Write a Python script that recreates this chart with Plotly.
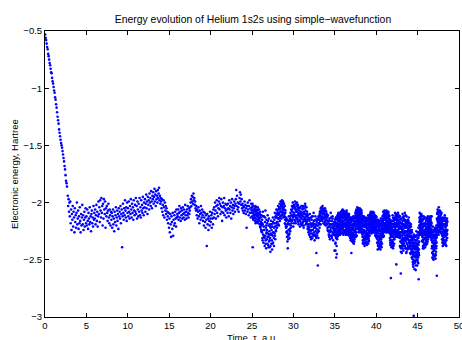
import numpy as np
import plotly.graph_objects as go

# ---- data (energies in hundredths of Hartree, sign negative) ----
# initial descent
descent_t = (0.02, 2.66)
descent_e = [53, 56, 58, 61, 64, 66, 70, 72, 75, 78, 80, 83, 86, 87, 91, 94, 96, 99, 102, 104,
             108, 110, 114, 117, 121, 125, 128, 131, 136, 139, 142, 145, 148, 150, 152, 155, 158,
             161, 164, 168, 171, 176, 181, 183, 186]

early_t = (2.75, 25.0)
early_e = [194, 203, 197, 208, 200,
           212, 199, 218, 206, 224, 210, 215, 203, 221, 208, 213, 226, 205, 217, 211, 222, 209, 200, 219, 214,
           207, 223, 212, 218, 204, 216, 226, 210, 220, 213, 202, 219, 211, 224, 215, 208, 221, 213, 205, 218,
           212, 220, 206, 216, 223, 209, 214, 219, 204, 217, 212, 225, 210, 207, 218, 213, 221, 203, 215, 209,
           214, 206, 219, 211, 202, 216, 208, 221, 212, 199, 210, 204, 217, 198, 207, 213, 196, 209, 203, 220,
           201, 214, 197, 206, 210, 199, 222, 205, 212, 203, 209, 216, 207, 201, 213, 218, 206, 211, 220, 208,
           215, 209, 222, 212, 206, 219, 214, 225, 208, 217, 211, 204, 220, 213, 207, 216, 210, 223, 205, 212,
           208, 214, 203, 218, 210, 206, 239, 212, 201, 209, 215, 205, 211, 198, 207, 213, 204, 216, 200, 209,
           205, 212, 199, 208, 214, 203, 210, 197, 206, 213, 201, 209, 204, 215, 198, 207, 211, 202, 208, 196,
           210, 203, 214, 199, 206, 212, 201, 208, 196, 211, 204, 213, 198, 207, 202, 209, 195, 205, 211, 200,
           204, 197, 208, 201, 193, 205, 199, 210, 195, 202, 198, 206, 192, 200, 196, 203, 190, 199, 205, 194,
           197, 191, 201, 195, 188, 199, 193, 203, 190, 197, 194, 200, 189, 196, 192, 187, 198, 194, 201, 196,
           199, 205, 197, 208, 202, 211, 198, 204, 213, 200, 207, 203, 210, 205, 215, 208, 212, 218, 209, 222,
           214, 226, 210, 219, 230, 212, 217, 223, 209, 229, 215, 220, 211, 218, 208, 214, 221, 206, 213, 210,
           212, 206, 215, 209, 203, 213, 208, 216, 205, 211, 207, 214, 204, 210, 213, 206, 209, 215, 202, 211,
           208, 214, 206, 211, 203, 209, 213, 205, 210, 207, 204, 200, 197, 203, 194, 199, 195, 201, 192, 198,
           196, 202, 199, 205, 207, 203, 211, 206, 214, 208, 204, 212, 218, 207, 210, 215, 203, 209, 213, 206,
           211, 216, 208, 220, 213, 209, 217, 222, 211, 215, 238, 210, 219, 214, 224, 212, 216, 220, 208, 214,
           217, 211, 222, 209, 214, 219, 206, 213, 204, 210, 200, 207, 214, 203, 198, 209, 202, 212, 205, 199,
           196, 206, 201, 210, 203, 197, 208, 216, 204, 200, 209, 203, 196, 211, 205, 201, 207, 213, 202, 206,
           209, 201, 205, 212, 198, 206, 203, 209, 200, 214, 204, 197, 207, 202, 210, 205, 199, 203, 208, 201,
           197, 189, 203, 194, 206, 200, 204, 208, 201, 196, 191, 199, 193, 202, 197, 205, 201, 207, 203, 209,
           204, 199, 207, 202, 210, 205, 222, 203, 208, 200, 206, 211, 203, 198, 209, 205, 213, 201, 207, 204]

mid_t = (25.0, 34.99)
mid_e = [206, 212, 201, 239, 209, 215, 203, 210, 207, 213,
         205, 211, 216, 208, 203, 214, 210, 206, 217, 209,
         212, 207, 215, 204, 211, 218, 209, 214, 206, 213,
         216, 210, 219, 208, 222, 213, 217, 224, 211, 220,
         226, 215, 231, 219, 208, 228, 235, 221, 212, 230,
         224, 238, 217, 229, 207, 233, 222, 240, 215, 226,
         232, 218, 236, 211, 227, 237, 220, 230, 214, 234,
         225, 239, 219, 231, 243, 222, 228, 216, 236, 224,
         233, 241, 221, 229, 213, 235, 226, 218, 231, 222,
         215, 227, 209, 221, 232, 212, 224, 218, 206, 220,
         213, 222, 207, 217, 211, 203, 219, 209, 214, 205,
         210, 201, 216, 206, 212, 199, 208, 203, 214, 200,
         205, 198, 211, 202, 207, 199, 213, 204, 209, 201,
         206, 212, 203, 215, 209, 219, 213, 222, 216, 226,
         221, 230, 215, 227, 240, 218, 232, 224, 212, 228,
         219, 231, 223, 214, 225, 209, 220, 215, 206, 218,
         211, 203, 216, 208, 200, 213, 221, 205, 210, 202,
         209, 215, 204, 199, 212, 206, 218, 201, 208, 214,
         203, 200, 211, 206, 216, 202, 209, 219, 205, 212,
         207, 215, 210, 221, 204, 213, 208, 218, 211, 203,
         214, 209, 220, 206, 212, 217, 203, 210, 222, 208,
         213, 205, 216, 210, 201, 214, 207, 219, 211, 204,
         212, 218, 208, 215, 223, 211, 219, 226, 214, 221,
         228, 216, 224, 210, 230, 219, 225, 213, 232, 221,
         215, 227, 220, 231, 212, 224, 218, 229, 209, 222,
         226, 216, 233, 221, 228, 212, 225, 219, 230, 244,
         223, 217, 229, 214, 226, 255, 220, 231, 212, 225,
         218, 213, 222, 208, 216, 211, 219, 205, 214, 209,
         204, 212, 207, 216, 203, 210, 214, 206, 218, 209,
         213, 207, 219, 211, 205, 216, 210, 220, 212, 208,
         215, 210, 219, 213, 222, 216, 211, 225, 218, 228,
         221, 230, 214, 226, 232, 219, 224, 209, 229, 220,
         225, 216, 231, 222, 212, 227, 219, 233, 223, 217,
         228, 221, 242, 226]

mid2_t = (25.015, 34.975)
mid2_e = [209, 203, 214, 207, 211, 213, 207, 218, 204, 211, 209, 216, 206, 213, 210,
          214, 221, 211, 218, 225, 218, 233, 212, 224, 229, 231, 213, 236, 220, 227,
          224, 230, 216, 239, 228, 233, 221, 238, 227, 219, 228, 236, 217, 226, 238,
          218, 229, 213, 225, 210, 217, 209, 214, 206, 220, 204, 213, 208, 202, 211,
          203, 209, 200, 206, 212, 210, 218, 207, 221, 214, 225, 234, 219, 229, 216,
          227, 216, 212, 222, 211, 207, 215, 204, 212, 218, 203, 211, 216, 206, 213,
          208, 214, 204, 217, 210, 212, 205, 216, 209, 219, 211, 218, 205, 215, 220,
          209, 215, 203, 212, 217, 216, 210, 221, 213, 224, 222, 214, 227, 218, 230,
          224, 212, 220, 228, 216, 219, 229, 222, 215, 231, 220, 227, 215, 224, 218,
          215, 210, 219, 207, 212, 209, 215, 205, 213, 208, 210, 217, 214, 207, 212,
          218, 212, 224, 216, 221, 225, 216, 229, 222, 213, 219, 229, 214, 226, 221,
          224, 219]

late_t = (35.02, 48.58)
late_e = [215, 229, 242, 220, 231, 248, 213, 226, 218, 232,
          211, 224, 216, 229, 209, 221, 227, 214, 225, 210,
          219, 228, 212, 223, 208, 217, 226, 211, 220, 207,
          214, 206, 222, 210, 227, 213, 208, 219, 225, 212,
          209, 221, 215, 228, 211, 218, 224, 207, 216, 226,
          213, 220, 210, 227, 216, 222, 212, 229, 218, 214,
          224, 231, 217, 226, 213, 229, 244, 220, 232, 215,
          227, 219, 233, 222, 212, 228, 236, 218, 225, 214,
          221, 230, 209, 223, 216, 226, 206, 218, 212, 220,
          204, 215, 208, 222, 205, 217, 211, 225, 207, 213,
          219, 209, 224, 214, 206, 221, 216, 226, 211, 218,
          223, 230, 214, 236, 220, 227, 212, 233, 224, 238,
          217, 229, 221, 235, 213, 226, 231, 218, 237, 222,
          228, 215, 232, 220, 211, 226, 234, 219, 224, 213,
          221, 210, 225, 216, 208, 222, 213, 227, 209, 219,
          214, 224, 208, 218, 212, 226, 215, 209, 221, 217,
          211, 223, 216, 228, 213, 220, 226, 218, 231, 224,
          235, 219, 241, 227, 215, 233, 222, 238, 217, 229,
          224, 236, 220, 241, 228, 214, 232, 225, 239, 221,
          218, 230, 212, 224, 208, 219, 226, 210, 222, 207,
          215, 223, 209, 218, 225, 212, 220, 207, 216, 226,
          211, 219, 224, 213, 221, 208, 217, 223, 214, 226,
          220, 231, 215, 237, 224, 266, 228, 239, 218, 233,
          222, 235, 211, 227, 240, 219, 230, 216, 225, 232,
          214, 222, 209, 226, 218, 230, 212, 254, 220, 228,
          211, 224, 216, 229, 209, 221, 227, 215, 223, 230,
          218, 226, 212, 234, 221, 262, 240, 215, 229, 244,
          224, 236, 210, 231, 219, 242, 227, 214, 238, 221,
          233, 209, 225, 240, 217, 230, 222, 244, 212, 236,
          219, 228, 241, 215, 232, 224, 239, 213, 229, 235,
          222, 240, 218, 234, 227, 245, 221, 238, 231, 248,
          226, 242, 236, 252, 230, 256, 240, 299, 235, 247,
          258, 229, 244, 251, 238, 259, 233, 246, 225, 250,
          239, 255, 231, 243, 236, 248, 222, 267, 241, 228,
          217, 209, 224, 214, 228, 212, 220, 226, 211, 219,
          223, 234, 215, 229, 240, 219, 231, 212, 237, 225,
          218, 232, 226, 239, 213, 228, 235, 221, 230, 216,
          227, 236, 214, 222, 212, 219, 228, 215, 224, 230,
          213, 221, 227, 216, 212, 225, 219, 229, 223, 233,
          240, 226, 248, 234, 221, 245, 238, 250, 229, 242,
          236, 247, 223, 239, 231, 249, 226, 243, 220, 235,
          264, 215, 228, 206, 219, 224, 210, 226, 204, 217,
          212, 222, 207, 218, 225, 211, 220, 214, 227, 209,
          221, 232, 216, 228, 238, 213, 226, 234, 219, 230,
          224, 236, 211, 229, 220, 233, 215, 227, 238, 218,
          225, 214, 231]

late2_t = (35.03, 48.59)
late2_e = [223, 217, 235, 226, 214, 230, 221, 245, 219, 227,
           218, 226, 212, 222, 228, 215, 220, 211, 224, 217,
           214, 222, 209, 225, 216, 211, 221, 226, 213, 218,
           208, 219, 213, 224, 207, 216, 221, 211, 226, 215,
           220, 211, 226, 214, 208, 223, 217, 228, 212, 219,
           217, 225, 213, 221, 228, 211, 224, 215, 220, 226,
           219, 227, 215, 233, 222, 217, 230, 224, 213, 228,
           231, 216, 224, 235, 220, 229, 213, 226, 232, 219,
           216, 225, 211, 228, 219, 207, 223, 214, 229, 210,
           209, 219, 213, 206, 221, 211, 216, 224, 210, 218,
           214, 222, 208, 217, 225, 212, 219, 209, 223, 216,
           218, 227, 233, 216, 224, 213, 230, 221, 236, 226,
           225, 215, 232, 219, 228, 236, 222, 216, 230, 224,
           219, 231, 224, 213, 229, 217, 233, 222, 227, 216,
           215, 225, 212, 219, 209, 223, 217, 211, 226, 214,
           220, 210, 223, 215, 212, 219, 224, 213, 217, 211,
           218, 226, 212, 221, 229, 215, 223, 213, 227, 220,
           226, 232, 218, 238, 224, 230, 216, 235, 221, 240,
           231, 219, 227, 237, 216, 234, 223, 229, 218, 236,
           225, 214, 228, 217, 211, 223, 215, 229, 212, 220,
           219, 210, 224, 214, 220, 209, 222, 216, 212, 225,
           216, 224, 210, 221, 214, 226, 218, 211, 220, 215,
           224, 217, 233, 221, 228, 236, 219, 230, 225, 238,
           229, 216, 234, 224, 213, 238, 227, 221, 236, 218,
           220, 228, 215, 224, 211, 219, 227, 214, 229, 217,
           224, 215, 230, 212, 226, 219, 211, 228, 217, 222,
           226, 238, 217, 230, 222, 243, 214, 235, 226, 232,
           218, 229, 240, 216, 233, 223, 212, 236, 228, 220,
           227, 215, 238, 222, 211, 234, 226, 218, 243, 230,
           226, 236, 217, 230, 222, 240, 216, 233, 225, 238,
           230, 221, 244, 226, 236, 219, 241, 229, 235, 224,
           238, 249, 231, 245, 254, 236, 243, 228, 251, 240,
           236, 252, 241, 230, 248, 255, 235, 243, 229, 238,
           245, 233, 250, 226, 240, 253, 237, 229, 246, 234,
           213, 222, 216, 227, 210, 221, 215, 224, 218, 212,
           228, 216, 233, 222, 238, 214, 226, 235, 220, 231,
           224, 214, 231, 219, 236, 227, 216, 233, 222, 228,
           219, 231, 223, 234, 217, 226, 213, 229, 220, 216,
           218, 226, 214, 230, 221, 215, 228, 217, 224, 212,
           232, 244, 226, 238, 249, 230, 224, 241, 235, 247,
           242, 229, 238, 225, 245, 233, 228, 240, 231, 224,
           222, 210, 225, 214, 208, 221, 217, 228, 212, 219,
           216, 209, 224, 213, 220, 226, 215, 210, 223, 218,
           226, 217, 235, 222, 214, 231, 224, 237, 219, 228,
           230, 219, 226, 213, 235, 222, 229, 217, 233, 225,
           220, 228, 217]

late3_t = (35.04, 48.60)
late3_e = [219, 236, 224, 213, 228, 218, 238, 222, 215, 230,
           214, 221, 227, 210, 219, 225, 213, 228, 216, 223,
           225, 215, 219, 210, 227, 220, 208, 216, 223, 212,
           221, 211, 217, 228, 212, 220, 209, 224, 218, 210,
           213, 225, 218, 210, 221, 227, 214, 220, 209, 224,
           222, 212, 218, 226, 215, 223, 210, 219, 227, 220,
           228, 218, 224, 214, 231, 220, 226, 216, 234, 222,
           220, 230, 223, 214, 233, 226, 219, 234, 217, 229,
           224, 213, 220, 230, 208, 218, 226, 212, 221, 215,
           216, 207, 223, 212, 218, 209, 226, 214, 220, 205,
           222, 213, 219, 210, 226, 218, 207, 215, 221, 212,
           228, 220, 235, 225, 214, 232, 219, 226, 231, 217,
           230, 221, 217, 234, 226, 214, 232, 220, 227, 235,
           224, 216, 228, 236, 220, 231, 214, 226, 218, 229,
           212, 219, 224, 214, 221, 210, 218, 225, 216, 222,
           217, 213, 220, 226, 209, 216, 222, 214, 219, 224,
           222, 215, 229, 218, 224, 212, 230, 221, 216, 226,
           221, 229, 236, 219, 233, 225, 240, 222, 230, 218,
           236, 225, 232, 220, 238, 227, 235, 221, 230, 226,
           220, 227, 216, 222, 230, 218, 212, 225, 219, 214,
           221, 213, 218, 226, 211, 217, 224, 214, 221, 208,
           222, 213, 217, 225, 209, 219, 223, 216, 212, 221,
           218, 227, 235, 223, 230, 216, 226, 233, 221, 229,
           235, 224, 219, 230, 237, 214, 226, 232, 220, 227,
           224, 213, 222, 218, 228, 215, 221, 210, 225, 219,
           218, 227, 213, 221, 224, 216, 230, 220, 213, 226,
           231, 221, 228, 239, 218, 226, 234, 223, 238, 219,
           233, 221, 226, 237, 213, 228, 235, 219, 231, 225,
           220, 231, 225, 216, 229, 240, 220, 232, 225, 216,
           232, 221, 229, 238, 224, 218, 235, 227, 220, 233,
           236, 227, 233, 224, 240, 230, 226, 243, 233, 238,
           244, 233, 240, 247, 235, 250, 238, 245, 232, 253,
           247, 238, 233, 252, 240, 229, 247, 236, 250, 241,
           238, 247, 228, 252, 242, 231, 235, 244, 226, 220,
           220, 215, 226, 219, 213, 224, 217, 210, 222, 226,
           219, 230, 224, 215, 233, 227, 221, 240, 228, 218,
           231, 220, 226, 218, 229, 223, 237, 225, 214, 234,
           225, 216, 228, 219, 232, 221, 230, 218, 226, 223,
           222, 215, 229, 219, 225, 213, 220, 231, 218, 227,
           238, 228, 235, 243, 226, 239, 246, 231, 237, 228,
           233, 240, 222, 237, 229, 246, 235, 226, 238, 230,
           214, 222, 209, 217, 226, 213, 220, 207, 224, 215,
           221, 214, 218, 225, 208, 219, 213, 222, 216, 226,
           219, 229, 223, 216, 233, 226, 220, 236, 225, 214,
           226, 216, 233, 221, 228, 216, 237, 224, 219, 231,
           227, 216, 224]

segments = [(descent_t, descent_e), (early_t, early_e), (mid_t, mid_e), (mid2_t, mid2_e),
            (late_t, late_e), (late2_t, late2_e), (late3_t, late3_e)]

t_all, e_all = [], []
for (t0, t1), vals in segments:
    t_all.extend(np.linspace(t0, t1, len(vals)))
    e_all.extend([-v / 100.0 for v in vals])

FONT = "Liberation Sans, Arial, Helvetica, sans-serif"

fig = go.Figure()
fig.add_trace(go.Scatter(x=t_all, y=e_all, mode="markers",
                         marker=dict(color="#0000FF", size=2.6, line=dict(width=0)),
                         showlegend=False, cliponaxis=True))

axis_common = dict(showgrid=False, zeroline=False, showline=True, linecolor="black",
                   linewidth=1, mirror="allticks", ticks="inside", ticklen=4,
                   tickcolor="black", tickwidth=1, ticklabeloverflow="allow",
                   tickfont=dict(family=FONT, size=9.5, color="black"), automargin=False)

fig.update_layout(
    width=462, height=340,
    margin=dict(l=45, r=3, t=31, b=23),
    paper_bgcolor="white", plot_bgcolor="white",
    font=dict(family=FONT, size=9.5, color="black"),
    xaxis=dict(range=[0, 50], tick0=0, dtick=5, **axis_common),
    yaxis=dict(range=[-3, -0.5], tick0=-3, dtick=0.5, **axis_common),
    title=dict(text="Energy evolution of Helium 1s2s using simple\u2212wavefunction",
               x=253 / 462, xanchor="center", y=1 - 19 / 340, yanchor="middle",
               font=dict(family=FONT, size=10.4, color="black")),
)
fig.add_annotation(text="Time, \u03c4, a.u.", xref="paper", yref="paper", x=0.5, y=-0.0455,
                   yanchor="top", showarrow=False,
                   font=dict(family=FONT, size=9.5, color="black"))
fig.add_annotation(text="Electronic energy, Hartree", xref="paper", yref="paper",
                   x=-0.075, y=0.5, textangle=-90, xanchor="center", yanchor="middle",
                   showarrow=False, font=dict(family=FONT, size=9.5, color="black"))

fig.write_html("out.html")
